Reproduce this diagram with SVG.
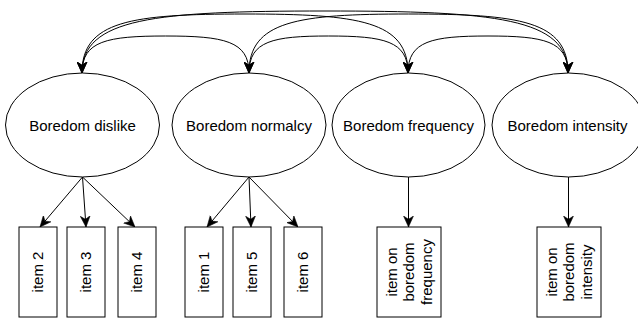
<svg xmlns="http://www.w3.org/2000/svg" width="638" height="322" viewBox="0 0 638 322">
  <style>
    .node { fill: #ffffff; stroke: #000000; stroke-width: 1; }
    .lbl { font-family: "Liberation Sans", Arial, Helvetica, sans-serif; font-size: 15px; fill: #000000; text-anchor: middle; }
    .edge { fill: none; stroke: #000000; stroke-width: 1; }
    .cov { marker-start: url(#arrow); marker-end: url(#arrow); }
    .load { marker-end: url(#arrow); }
  </style>
  <defs>
    <marker id="arrow" viewBox="0 0 10 10" refX="10" refY="5" markerWidth="11" markerHeight="11" markerUnits="userSpaceOnUse" orient="auto-start-reverse">
      <path d="M0,0.5 L10,5 L0,9.5 L3,5 z" fill="#000000" stroke="#000000" stroke-width="0.5"/>
    </marker>
  </defs>
  <rect width="638" height="322" fill="#ffffff"/>

  <g id="connectors">
    <path class="edge cov" d="M82,73 C82,41 107,36 165.5,36 C224,36 249,41 249,73"/>
    <path class="edge cov" d="M249,73 C249,41 273,36 328.5,36 C384,36 408,41 408,73"/>
    <path class="edge cov" d="M408,73 C408,41 432,36 488,36 C544,36 568,41 568,73"/>
    <path class="edge cov" d="M82,73 C82,21 131,14 245,14 C359,14 408,21 408,73"/>
    <path class="edge cov" d="M249,73 C249,21 297,14 408.5,14 C520,14 568,21 568,73"/>
    <path class="edge cov" d="M82,73 C82,18 155,11 325,11 C495,11 568,18 568,73"/>
    <line class="edge load" x1="82.5" y1="177" x2="40" y2="227"/>
    <line class="edge load" x1="82.5" y1="177" x2="86" y2="227"/>
    <line class="edge load" x1="82.5" y1="177" x2="135" y2="227"/>
    <line class="edge load" x1="249" y1="177" x2="207" y2="227"/>
    <line class="edge load" x1="249" y1="177" x2="251" y2="227"/>
    <line class="edge load" x1="249" y1="177" x2="298" y2="227"/>
    <line class="edge load" x1="408.5" y1="177" x2="408.5" y2="227"/>
    <line class="edge load" x1="568.5" y1="177" x2="568.5" y2="227"/>
  </g>

  <g id="boredom-dislike">
    <ellipse class="node" cx="82.5" cy="125" rx="77" ry="52"/>
    <text class="lbl" x="82.5" y="131">Boredom dislike</text>
  </g>
  <g id="boredom-normalcy">
    <ellipse class="node" cx="249" cy="125" rx="77" ry="52"/>
    <text class="lbl" x="249" y="131">Boredom normalcy</text>
  </g>
  <g id="boredom-frequency">
    <ellipse class="node" cx="408.5" cy="125" rx="76.5" ry="52"/>
    <text class="lbl" x="408.5" y="131">Boredom frequency</text>
  </g>
  <g id="boredom-intensity">
    <ellipse class="node" cx="568.5" cy="125" rx="76.5" ry="52"/>
    <text class="lbl" x="567.5" y="131">Boredom intensity</text>
  </g>

  <g id="item-2">
    <rect class="node" x="19" y="227" width="38" height="90"/>
    <text class="lbl" transform="translate(43.3,272) rotate(-90)">item 2</text>
  </g>
  <g id="item-3">
    <rect class="node" x="67" y="227" width="38" height="90"/>
    <text class="lbl" transform="translate(91.3,272) rotate(-90)">item 3</text>
  </g>
  <g id="item-4">
    <rect class="node" x="118" y="227" width="38" height="90"/>
    <text class="lbl" transform="translate(142.3,272) rotate(-90)">item 4</text>
  </g>
  <g id="item-1">
    <rect class="node" x="185" y="227" width="38" height="90"/>
    <text class="lbl" transform="translate(209.3,272) rotate(-90)">item 1</text>
  </g>
  <g id="item-5">
    <rect class="node" x="233" y="227" width="38" height="90"/>
    <text class="lbl" transform="translate(257.3,272) rotate(-90)">item 5</text>
  </g>
  <g id="item-6">
    <rect class="node" x="284" y="227" width="38" height="90"/>
    <text class="lbl" transform="translate(308.3,272) rotate(-90)">item 6</text>
  </g>
  <g id="item-frequency">
    <rect class="node" x="377" y="227" width="64" height="90"/>
    <text class="lbl" transform="translate(396.5,272) rotate(-90)">item on</text>
    <text class="lbl" transform="translate(414.3,272) rotate(-90)">boredom</text>
    <text class="lbl" transform="translate(432,272) rotate(-90)">frequency</text>
  </g>
  <g id="item-intensity">
    <rect class="node" x="537" y="227" width="64" height="90"/>
    <text class="lbl" transform="translate(556.5,272) rotate(-90)">item on</text>
    <text class="lbl" transform="translate(574.3,272) rotate(-90)">boredom</text>
    <text class="lbl" transform="translate(592,272) rotate(-90)">intensity</text>
  </g>
</svg>
